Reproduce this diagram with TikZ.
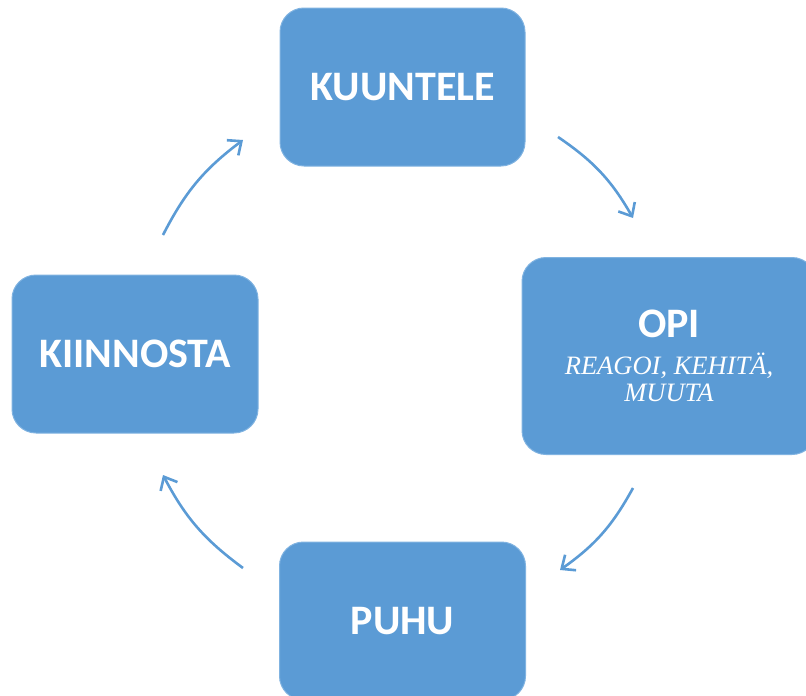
\documentclass[tikz,border=0pt]{standalone}
\usepackage{fontspec}
\setmainfont{Carlito}
\newfontfamily\opiserif{Liberation Serif}
\usetikzlibrary{arrows.meta}
\definecolor{boxblue}{RGB}{91,155,213}
\definecolor{boxedge}{RGB}{128,179,225}

\begin{document}
\begin{tikzpicture}[x=1pt,y=1pt,
  box/.style={draw=boxedge,line width=1pt,fill=boxblue,rounded corners=24pt,
    text=white,inner sep=0pt,font=\fontsize{42}{46}\selectfont\bfseries},
  cycarrow/.style={draw=boxblue,line width=2.6pt,
    -{Straight Barb[length=11pt,width=19pt]}}]
\useasboundingbox (0,0) rectangle (806,-696);
\node[box,minimum width=245pt,minimum height=158pt] (kuuntele) at (402.5,-87) {KUUNTELE};
\node[box,minimum width=294pt,minimum height=197pt,align=center,
  font=\opiserif\itshape\fontsize{26.5}{27.5}\selectfont] (opi) at (669,-356)
  {{\normalfont\bfseries\fontsize{42}{46}\selectfont OPI}\\[9pt]REAGOI, KEHITÄ,\\MUUTA};
\node[box,minimum width=246pt,minimum height=158pt] (puhu) at (402.5,-621) {PUHU};
\node[box,minimum width=246pt,minimum height=158pt] (kiinnosta) at (135,-354) {KIINNOSTA};
\coordinate (a1) at (163,-235);
\coordinate (b1) at (243,-140);
\coordinate (a2) at (558,-137);
\coordinate (b2) at (633,-218);
\coordinate (a3) at (633,-488);
\coordinate (b3) at (560,-570);
\coordinate (a4) at (243,-568);
\coordinate (b4) at (163,-475);
\draw[cycarrow] (a1) to[bend left=13] (b1);
\draw[cycarrow] (a2) to[bend left=13] (b2);
\draw[cycarrow] (a3) to[bend left=13] (b3);
\draw[cycarrow] (a4) to[bend left=13] (b4);
\end{tikzpicture}
\end{document}
